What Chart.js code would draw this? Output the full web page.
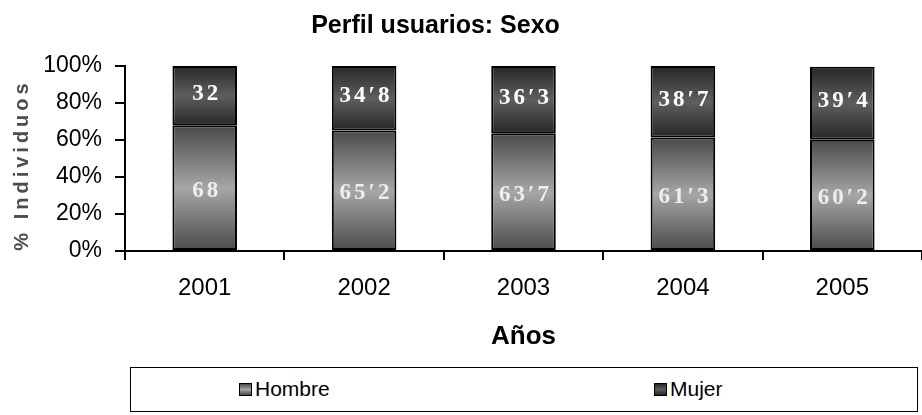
<!DOCTYPE html>
<html>
<head>
<meta charset="utf-8">
<script src="https://cdn.jsdelivr.net/npm/chart.js@4.4.1/dist/chart.umd.min.js"></script>
<style>
  html, body { margin: 0; padding: 0; background: #fff; }
  #wrap { position: relative; width: 922px; height: 415px; }
  #grafico { position: absolute; left: 0; top: 0; }
  #leyenda {
    position: absolute; left: 130px; top: 367px; width: 788px; height: 45px;
    box-sizing: border-box; border: 1px solid #000;
    font-family: "Liberation Sans", Arial, sans-serif; font-size: 21px; color: #000;
  }
  .item { position: absolute; top: 9px; display: flex; align-items: center; }
  .caja { width: 11px; height: 11px; border: 1px solid #000; margin-right: 3px; }
</style>
</head>
<body>
<div id="wrap">
  <canvas id="grafico" width="922" height="362"></canvas>
  <div id="leyenda"></div>
</div>
<script>
// Datos del gráfico
const anios = ["2001", "2002", "2003", "2004", "2005"];
const hombre = [68, 65.2, 63.7, 61.3, 60.2];
const mujer = [32, 34.8, 36.3, 38.7, 39.4];
const ticksY = [0, 20, 40, 60, 80, 100];
const tituloY = "% Individuos";

// colores del degradado (borde, centro)
const colores = {
    Hombre: ["#4a4a4a", "#a6a6a6"],
    Mujer: ["#272727", "#5e5e5e"]
};

const fuente = '"Liberation Sans", Arial, sans-serif';

// Degradado vertical para cada segmento de la barra
function degradado(ctx) {
    const chart = ctx.chart;
    const y = chart.scales.y;
    const c = ctx.datasetIndex === 0 ? colores.Hombre : colores.Mujer;
    if (!y || ctx.dataIndex === undefined) return c[1];
    const i = ctx.dataIndex;
    const base = ctx.datasetIndex === 0 ? 0 : hombre[i];
    const valor = ctx.datasetIndex === 0 ? hombre[i] : mujer[i];
    const y0 = y.getPixelForValue(base + valor);
    const y1 = y.getPixelForValue(base);
    if (!isFinite(y0) || !isFinite(y1) || y0 === y1) return c[1];
    const g = chart.ctx.createLinearGradient(0, y0, 0, y1);
    g.addColorStop(0, c[0]);
    g.addColorStop(0.5, c[1]);
    g.addColorStop(1, c[0]);
    return g;
}

// Etiquetas dentro de las barras y título del eje Y
const etiquetas = {
    id: 'etiquetas',
    afterLayout(chart) {
        // el título del original queda algo a la izquierda del centro
        if (chart.titleBlock) {
            chart.titleBlock.left -= 27;
            chart.titleBlock.right -= 27;
        }
    },
    afterDatasetsDraw(chart) {
        const ctx = chart.ctx;
        ctx.save();
        ctx.font = 'bold 23px "Liberation Serif", "Times New Roman", serif';
        ctx.letterSpacing = '3px';
        ctx.textAlign = 'center';
        ctx.textBaseline = 'alphabetic';
        chart.data.datasets.forEach((ds, d) => {
            ctx.fillStyle = d === 0 ? '#eeeeee' : '#ffffff';
            chart.getDatasetMeta(d).data.forEach((barra, i) => {
                const texto = String(ds.data[i]).replace('.', '\u2032');
                const medio = (barra.y + barra.base) / 2 + (d === 0 ? 1 : -4);
                ctx.fillText(texto, barra.x + 2, medio + 8);
            });
        });
        ctx.restore();
    },
    afterDraw(chart) {
        const ctx = chart.ctx;
        ctx.save();
        ctx.translate(22, 167);
        ctx.rotate(-Math.PI / 2);
        ctx.font = 'bold 20px ' + fuente;
        ctx.letterSpacing = '4px';
        ctx.fillStyle = '#4d4d4d';
        ctx.textAlign = 'center';
        ctx.textBaseline = 'middle';
        ctx.fillText(tituloY, 2, 0);
        ctx.restore();
    }
};

new Chart(document.getElementById('grafico'), {
    type: 'bar',
    data: {
        labels: anios,
        datasets: [
            { label: 'Hombre', data: hombre, backgroundColor: degradado, borderColor: '#000', borderWidth: 2, borderSkipped: false, barPercentage: 0.81, categoryPercentage: 0.5 },
            { label: 'Mujer', data: mujer, backgroundColor: degradado, borderColor: '#000', borderWidth: 2, borderSkipped: false, barPercentage: 0.81, categoryPercentage: 0.5 }
        ]
    },
    options: {
        responsive: false,
        animation: false,
        layout: { padding: { left: 0, right: -3, top: 0, bottom: 0 } },
        plugins: {
            legend: { display: false },
            tooltip: { enabled: false },
            title: {
                display: true,
                text: 'Perfil usuarios: Sexo',
                color: '#000',
                font: { family: fuente, size: 25, weight: 'bold' },
                padding: { top: 11, bottom: 25 }
            }
        },
        scales: {
            x: {
                stacked: true,
                afterFit(scale) { scale.height = 111; },
                grid: { display: true, drawOnChartArea: false, offset: true, color: '#000', lineWidth: 2, tickLength: 9 },
                border: { color: '#000', width: 2 },
                ticks: { color: '#000', padding: 14, font: { family: fuente, size: 24 } },
                title: {
                    display: true,
                    text: 'Años',
                    color: '#000',
                    font: { family: fuente, size: 26, weight: 'bold' },
                    padding: { top: 10, bottom: 10 }
                }
            },
            y: {
                stacked: true,
                min: 0,
                max: 100,
                afterBuildTicks(scale) {
                    scale.ticks = ticksY.map(v => ({ value: v }));
                },
                afterFit(scale) { scale.width = 125; },
                grid: { display: true, drawOnChartArea: false, color: '#000', lineWidth: 2, tickLength: 10 },
                border: { color: '#000', width: 2 },
                ticks: {
                    color: '#000',
                    padding: 13,
                    font: { family: fuente, size: 23 },
                    callback: v => v + '%'
                }
            }
        }
    },
    plugins: [etiquetas]
});

// Leyenda
const leyenda = document.getElementById('leyenda');
[['Hombre', 108], ['Mujer', 523]].forEach(([nombre, x]) => {
    const c = colores[nombre];
    const item = document.createElement('div');
    item.className = 'item';
    item.style.left = x + 'px';
    item.innerHTML = '<span class="caja" style="background:linear-gradient(' + c[0] + ',' + c[1] + ',' + c[0] + ')"></span>' + nombre;
    leyenda.appendChild(item);
});
</script>
</body>
</html>
